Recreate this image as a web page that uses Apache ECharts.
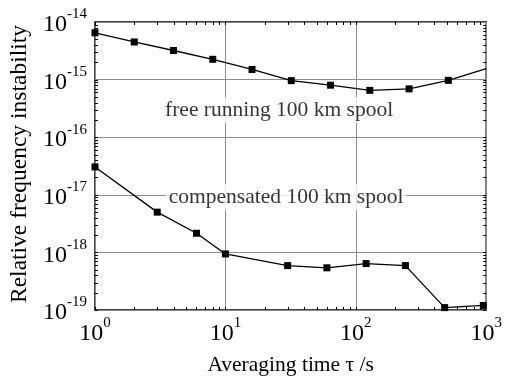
<!DOCTYPE html>
<html>
<head>
<meta charset="utf-8">
<script src="https://cdn.jsdelivr.net/npm/echarts@6/dist/echarts.min.js"></script>
<style>
  html, body { margin: 0; padding: 0; background: #fff; }
  #main { width: 505px; height: 381px; }
</style>
</head>
<body>
<div id="main"></div>
<script>
// free running fibre spool
const tauFree = [1, 2, 4, 8, 16, 32, 64, 128, 256, 512, 1000];
const sigmaFree = [6.5e-15, 4.5e-15, 3.2e-15, 2.25e-15, 1.5e-15, 9.6e-16, 8.0e-16, 6.5e-16, 6.9e-16, 9.7e-16, 1.55e-15];
// compensated fibre spool
const tauComp = [1, 3, 6, 10, 30, 60, 120, 240, 480, 950];
const sigmaComp = [3.05e-17, 5.0e-18, 2.15e-18, 9.4e-19, 5.9e-19, 5.4e-19, 6.4e-19, 5.9e-19, 1.1e-19, 1.2e-19];

const xExp = [0, 1, 2, 3];
const yExp = [-19, -18, -17, -16, -15, -14];

const FONT = 'Liberation Serif';

const myChart = echarts.init(document.getElementById('main'));

const powLabel = (v) => {
  const e = Math.round(Math.log10(v));
  return '{b|10}{s|' + e + '}';
};
const richLabel = {
  b: { fontFamily: FONT, fontSize: 24, color: '#000', lineHeight: 30, verticalAlign: 'bottom' },
  s: { fontFamily: FONT, fontSize: 15, color: '#000', lineHeight: 30, verticalAlign: 'top' }
};

// minor + major ticks drawn inward on all four sides
const renderTicks = (params, api) => {
  const children = [];
  const tl = api.coord([1, 1e-14]);
  const br = api.coord([1000, 1e-19]);
  const len = 3;
  const style = { stroke: '#000', lineWidth: 1 };
  for (let d = xExp[0]; d < xExp[xExp.length - 1]; d++) {
    for (let k = 1; k <= 9; k++) {
      const x = Math.round(api.coord([k * Math.pow(10, d), 1e-16])[0]) + 0.5;
      children.push({ type: 'line', shape: { x1: x, y1: br[1], x2: x, y2: br[1] - len }, style });
      children.push({ type: 'line', shape: { x1: x, y1: tl[1], x2: x, y2: tl[1] + len }, style });
    }
  }
  for (let d = yExp[0]; d < yExp[yExp.length - 1]; d++) {
    for (let k = 1; k <= 9; k++) {
      const y = Math.round(api.coord([10, k * Math.pow(10, d)])[1]) + 0.5;
      children.push({ type: 'line', shape: { x1: tl[0], y1: y, x2: tl[0] + len, y2: y }, style });
      children.push({ type: 'line', shape: { x1: br[0], y1: y, x2: br[0] - len, y2: y }, style });
    }
  }
  return { type: 'group', children };
};

const option = {
  backgroundColor: '#fff',
  animation: false,
  grid: {
    left: 95, right: 17, top: 22, bottom: 68,
    show: true, borderColor: '#000', borderWidth: 1.5, backgroundColor: 'transparent'
  },
  xAxis: {
    type: 'log', logBase: 10, min: 1, max: 1000,
    name: 'Averaging time \u03c4 /s',
    nameLocation: 'middle', nameGap: 44,
    nameTextStyle: { fontFamily: FONT, fontSize: 21.5, color: '#000' },
    axisLine: { show: false },
    axisTick: { show: false },
    splitLine: { show: true, lineStyle: { color: '#8c8c8c', width: 1 } },
    axisLabel: { formatter: powLabel, rich: richLabel, margin: 6 }
  },
  yAxis: {
    type: 'log', logBase: 10, min: 1e-19, max: 1e-14,
    name: 'Relative frequency instability',
    nameLocation: 'middle', nameGap: 60,
    nameTextStyle: { fontFamily: FONT, fontSize: 23.5, color: '#000', padding: [0, 0, 0, 4] },
    axisLine: { show: false },
    axisTick: { show: false },
    splitLine: { show: true, lineStyle: { color: '#8c8c8c', width: 1 } },
    axisLabel: { formatter: powLabel, rich: richLabel, margin: 8 }
  },
  series: [
    {
      type: 'custom',
      silent: true,
      clip: false,
      z: 5,
      renderItem: renderTicks,
      data: [[10, 1e-16]]
    },
    {
      name: 'free running',
      type: 'line',
      data: tauFree.map((t, i) => (i === tauFree.length - 1
        ? { value: [t, sigmaFree[i]], symbol: 'none' }
        : [t, sigmaFree[i]])),
      symbol: 'rect', symbolSize: 7,
      lineStyle: { color: '#000', width: 1.3 },
      itemStyle: { color: '#000' },
      z: 4
    },
    {
      name: 'compensated',
      type: 'line',
      data: tauComp.map((t, i) => [t, sigmaComp[i]]),
      symbol: 'rect', symbolSize: 7,
      lineStyle: { color: '#000', width: 1.3 },
      itemStyle: { color: '#000' },
      z: 4
    },
    {
      type: 'scatter',
      silent: true,
      symbolSize: 0,
      z: 3,
      data: [
        { value: [25.8, 2.96e-16], name: 'free running 100 km spool' },
        { value: [29.2, 9.1e-18], name: 'compensated 100 km spool' }
      ],
      label: {
        show: true,
        position: 'inside',
        formatter: '{b}',
        fontFamily: FONT, fontSize: 21.5, color: '#000',
        backgroundColor: '#fff', padding: [2, 3]
      }
    }
  ]
};

myChart.setOption(option);
</script>
</body>
</html>
